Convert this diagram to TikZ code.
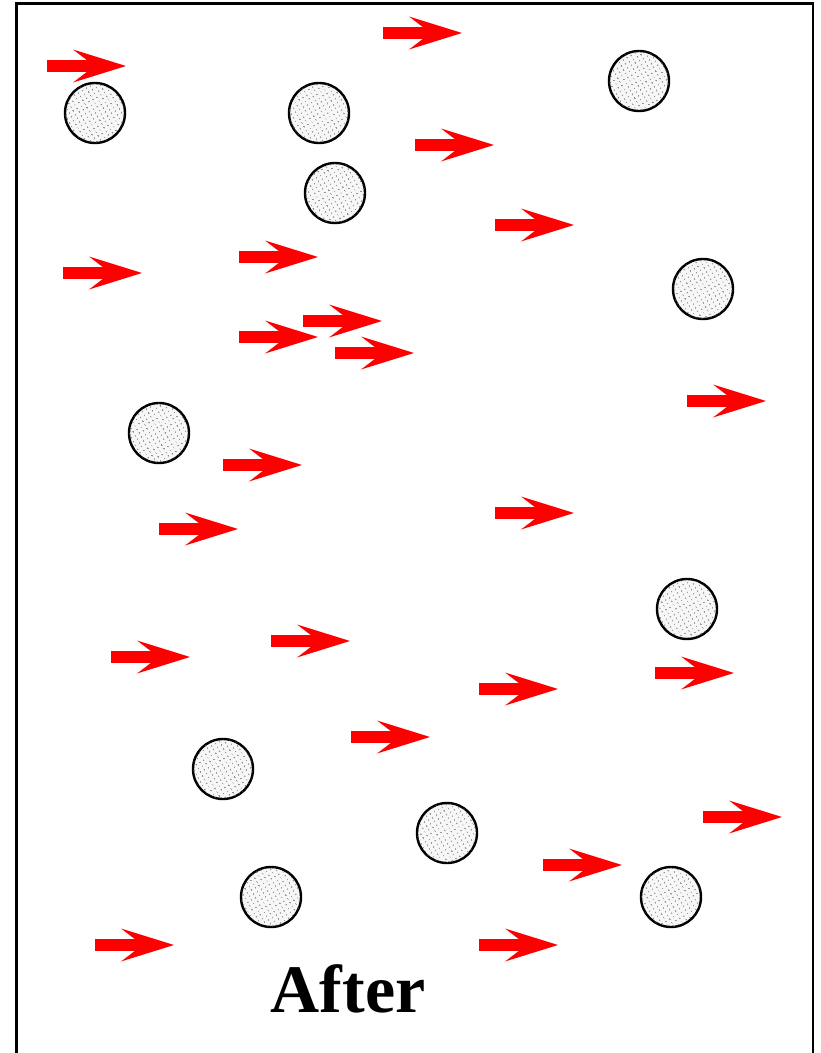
\documentclass[tikz,border=0pt]{standalone}
\usepackage{fontspec}
\newfontfamily\afterfont{Liberation Serif}
\usetikzlibrary{patterns.meta}
\tikzset{
  ball/.style={circle, draw=black, line width=2.4pt, minimum size=60pt, inner sep=0pt,
    fill=gray!6, postaction={pattern={Dots[distance=4pt, radius=0.75pt, angle=30]}, pattern color=black!70}},
  redarrow/.pic={\fill[red] (0,-5.8) -- (40,-5.8) -- (26,-16.5) -- (79,0) -- (26,16.5) -- (40,5.8) -- (0,5.8) -- cycle;},
  frame/.style={draw=black, line width=2.6pt}
}
\begin{document}
\begin{tikzpicture}[x=1pt,y=-1pt]
\useasboundingbox (0,0) rectangle (821,1053);
\draw[frame] (16.2,1060) -- (16.2,3.5) -- (813,3.5) -- (813,1060);
% arrows
\foreach \ax/\ay in {47/66,383/33,415/145,495/225,63/273,239/257,239/337,303/321,335/353,687/401,223/465,159/529,495/513,111/657,271/641,479/689,655/673,351/737,703/817,543/865,95/945,479/945}
  \pic at (\ax,\ay) {redarrow};
% balls
\node[ball] (b1) at (95,113) {};
\node[ball] (b2) at (319,113) {};
\node[ball] (b3) at (335,193) {};
\node[ball] (b4) at (639,81) {};
\node[ball] (b5) at (703,289) {};
\node[ball] (b6) at (159,433) {};
\node[ball] (b7) at (687,609) {};
\node[ball] (b8) at (223,769) {};
\node[ball] (b9) at (447,833) {};
\node[ball] (b10) at (271,897) {};
\node[ball] (b11) at (671,897) {};
\node[anchor=base, inner sep=0pt] (title) at (348,1012) {\afterfont\fontsize{68}{70}\selectfont\bfseries After};
\end{tikzpicture}
\end{document}
